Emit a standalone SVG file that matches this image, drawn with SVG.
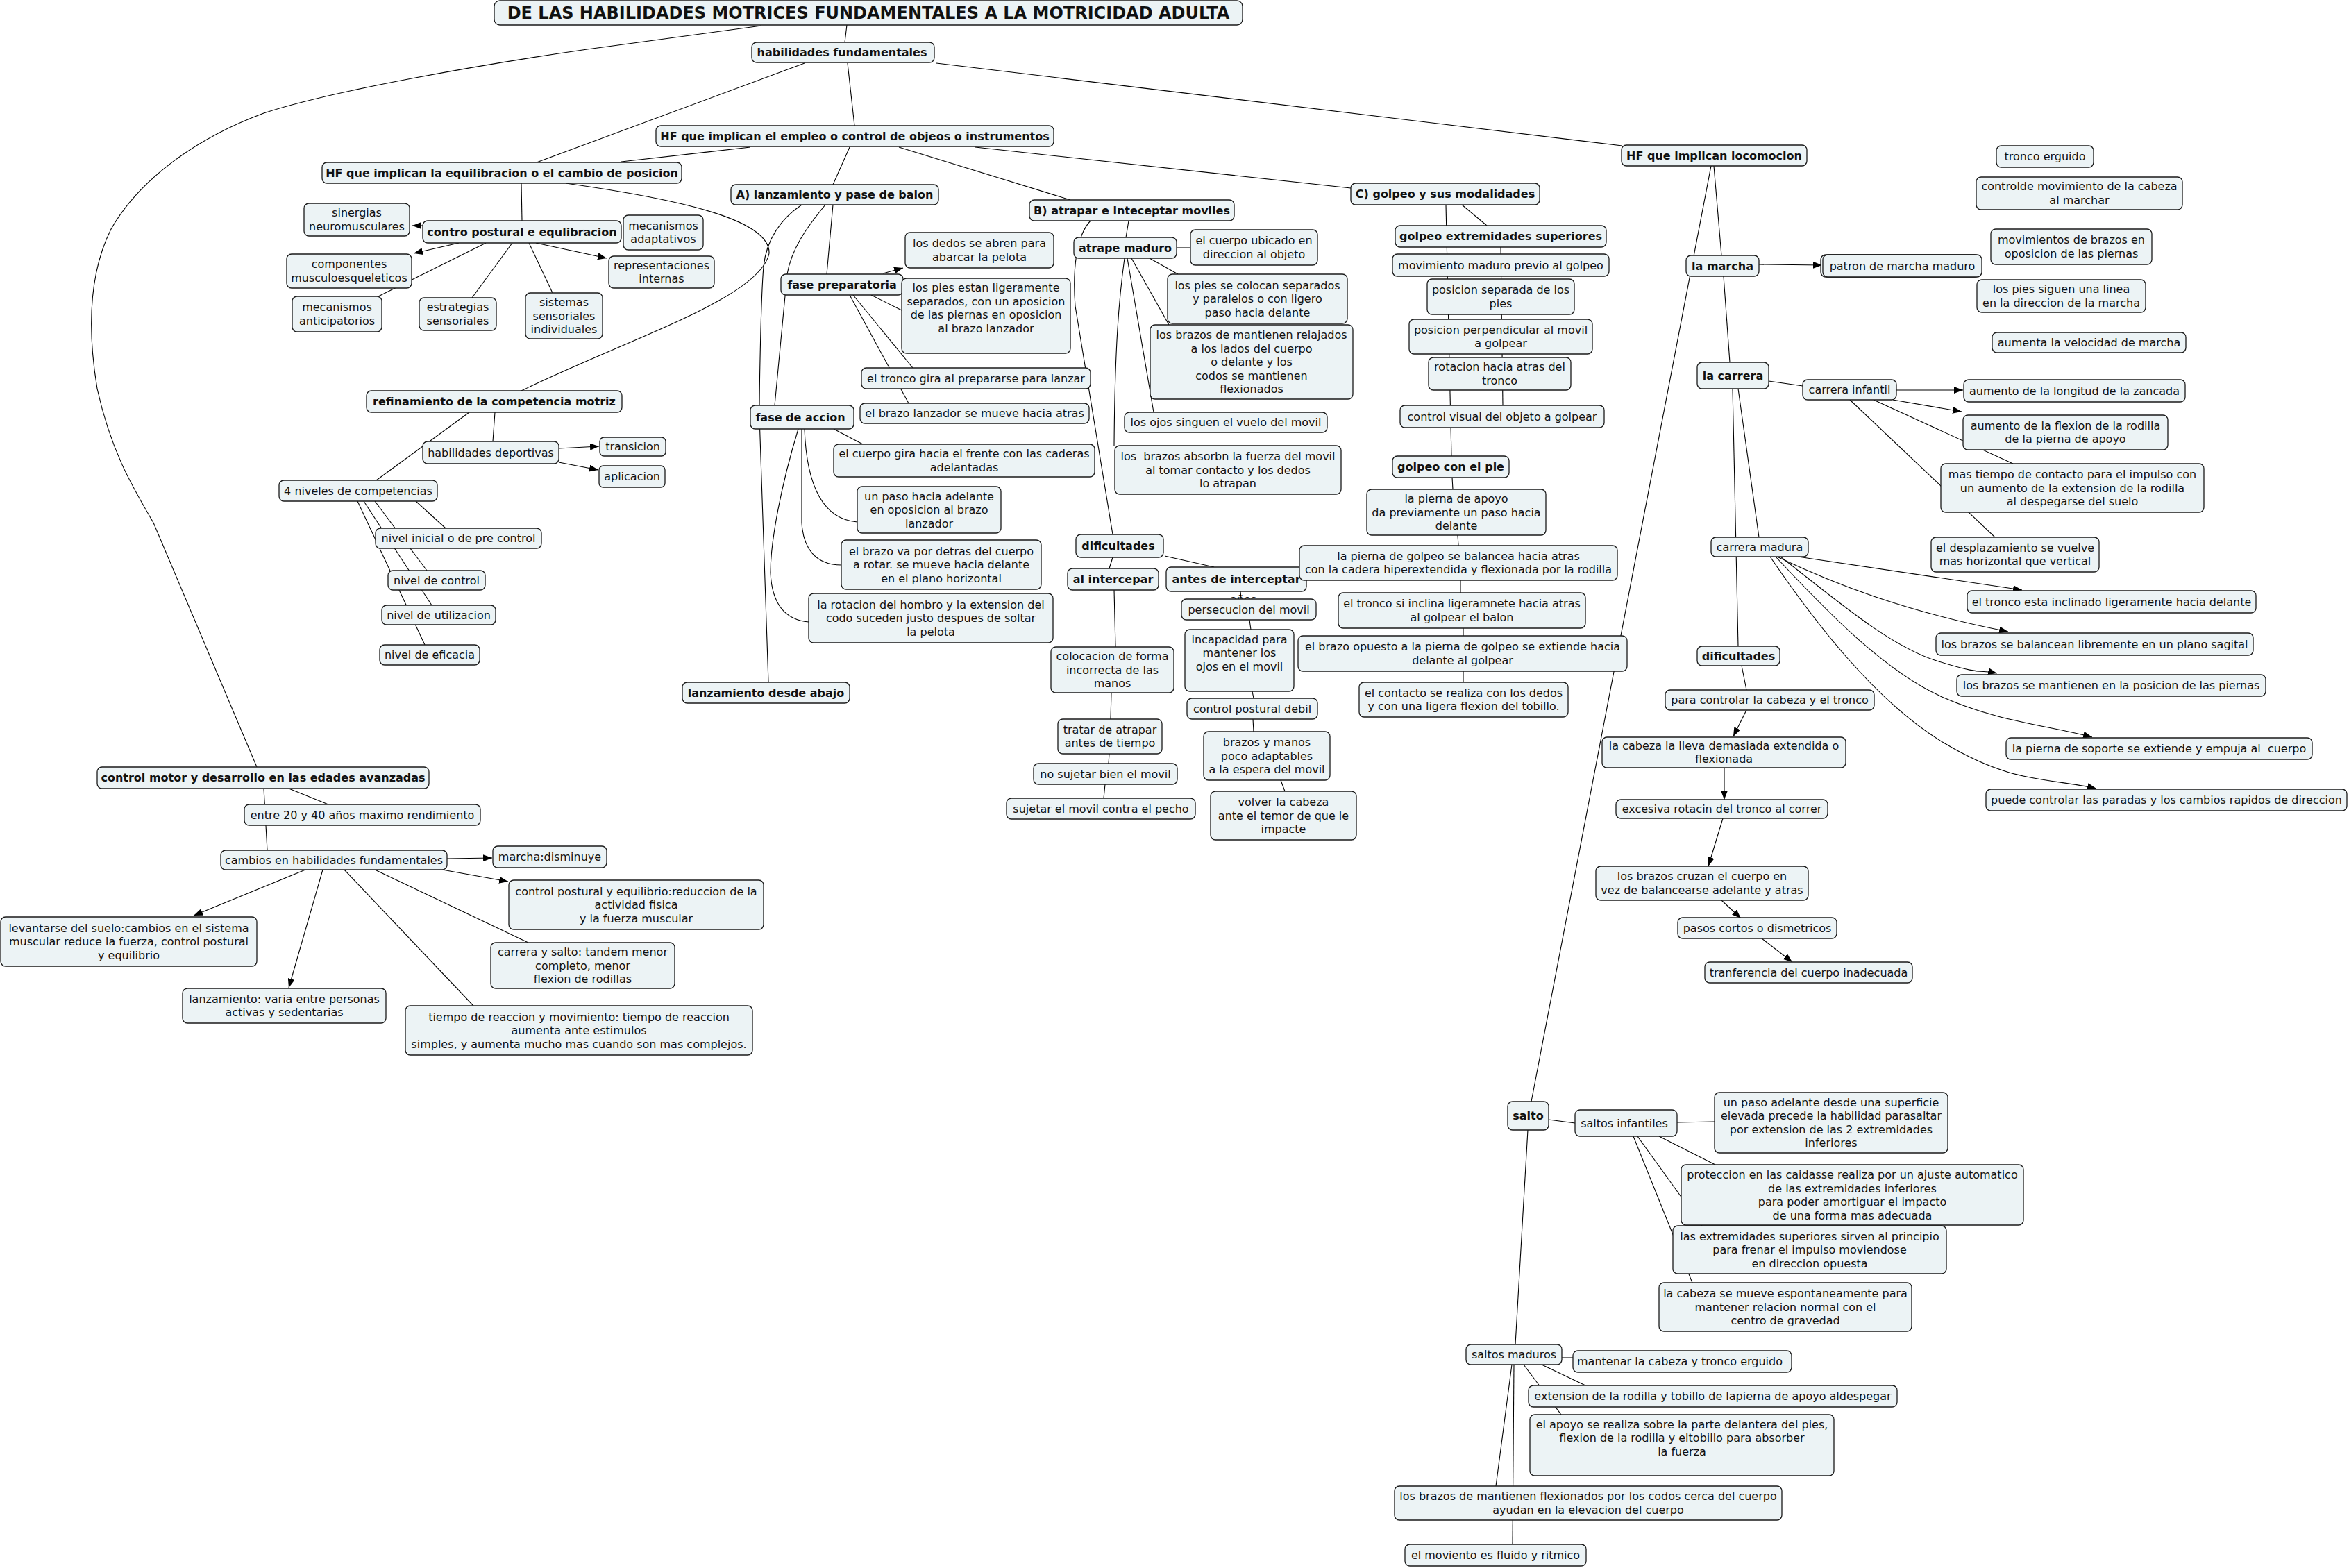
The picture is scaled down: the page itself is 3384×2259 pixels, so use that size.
<svg xmlns="http://www.w3.org/2000/svg" width="3384" height="2259" viewBox="0 0 3384 2259">
<style>
.n rect{fill:#ECF3F5;stroke:#1a1a1a;stroke-width:1.3}
text{font-family:"DejaVu Sans",Verdana,sans-serif;font-size:16px;fill:#111;text-anchor:middle}
.b{font-weight:bold}
#connectors path,#connectors line{stroke:#000;stroke-width:1.1;fill:none}
.a{marker-end:url(#ah)}
</style>
<defs>
<marker id="ah" viewBox="0 0 13 10" refX="13" refY="5" markerWidth="13" markerHeight="10" markerUnits="userSpaceOnUse" orient="auto"><path d="M0,0 L13,5 L0,10 z" fill="#000"/></marker>
</defs>
<rect width="3384" height="2259" fill="#fff"/>
<g id="connectors">
<line x1="1220" y1="36" x2="1217" y2="61"/>
<path d="M1097,37 L846,71 C700,92 480,130 380,163 C280,200 200,260 160,330 C130,390 125,470 140,560 C160,650 190,700 221,753 L370,1105"/>
<line x1="1159" y1="91" x2="773" y2="234"/>
<line x1="1221" y1="91" x2="1231" y2="181"/>
<line x1="1349" y1="91" x2="2337" y2="210"/>
<line x1="1081" y1="212" x2="895" y2="233"/>
<line x1="1224" y1="212" x2="1200" y2="266"/>
<line x1="1295" y1="212" x2="1542" y2="288"/>
<line x1="1405" y1="212" x2="1946" y2="271"/>
<line x1="751" y1="264" x2="752" y2="318"/>
<line class="a" x1="609" y1="325" x2="594" y2="325"/>
<line class="a" x1="661" y1="350" x2="596" y2="365"/>
<line x1="700" y1="350" x2="545" y2="427"/>
<line x1="738" y1="350" x2="680" y2="429"/>
<line x1="762" y1="350" x2="796" y2="422"/>
<line class="a" x1="772" y1="350" x2="874" y2="372"/>
<path d="M815,264 C1000,290 1110,320 1108,365 C1095,430 900,490 751,563"/>
<line x1="713" y1="594" x2="710" y2="636"/>
<line x1="676" y1="594" x2="542" y2="692"/>
<line class="a" x1="805" y1="646" x2="863" y2="643"/>
<line class="a" x1="805" y1="666" x2="862" y2="677"/>
<line x1="599" y1="722" x2="642" y2="761"/>
<line x1="540" y1="722" x2="615" y2="822"/>
<line x1="524" y1="722" x2="622" y2="872"/>
<line x1="515" y1="722" x2="612" y2="929"/>
<line x1="1200" y1="295" x2="1191" y2="395"/>
<path d="M1189,295 C1160,330 1140,360 1134,395 L1116,584"/>
<path d="M1155,295 C1125,315 1104,345 1100,384 C1096,430 1094,560 1094,600 L1107,983"/>
<line class="a" x1="1272" y1="394" x2="1301" y2="386"/>
<line x1="1255" y1="425" x2="1299" y2="447"/>
<line x1="1229" y1="425" x2="1315" y2="530"/>
<line x1="1224" y1="425" x2="1309" y2="581"/>
<line x1="1201" y1="618" x2="1243" y2="640"/>
<path d="M1159,618 C1162,700 1185,748 1235,752"/>
<path d="M1155,618 L1155,753 C1157,790 1175,814 1212,814"/>
<path d="M1150,618 C1125,700 1110,780 1110,825 C1112,870 1130,893 1165,896"/>
<path d="M1571,318 C1550,340 1545,390 1549,441 L1603,770"/>
<line x1="1626" y1="318" x2="1622" y2="342"/>
<line x1="1695" y1="357" x2="1715" y2="357"/>
<line x1="1656" y1="372" x2="1697" y2="395"/>
<line x1="1630" y1="372" x2="1684" y2="468"/>
<line x1="1624" y1="372" x2="1662" y2="594"/>
<path d="M1620,372 C1612,430 1606,500 1605,642"/>
<line x1="1603" y1="803" x2="1598" y2="819"/>
<line x1="1678" y1="801" x2="1749" y2="817"/>
<line x1="1787" y1="852" x2="1788" y2="863"/>
<line x1="1800" y1="893" x2="1802" y2="907"/>
<line x1="1804" y1="996" x2="1806" y2="1006"/>
<line x1="1805" y1="1036" x2="1806" y2="1054"/>
<line x1="1845" y1="1124" x2="1851" y2="1140"/>
<line x1="1605" y1="850" x2="1607" y2="932"/>
<line x1="1601" y1="998" x2="1600" y2="1036"/>
<line x1="1598" y1="1086" x2="1597" y2="1100"/>
<line x1="1592" y1="1130" x2="1590" y2="1150"/>
<line x1="2106" y1="295" x2="2142" y2="325"/>
<line x1="2083" y1="295" x2="2091" y2="657"/>
<line x1="2162" y1="356" x2="2165" y2="584"/>
<line x1="2092" y1="688" x2="2093" y2="705"/>
<line x1="2100" y1="771" x2="2101" y2="786"/>
<line x1="2104" y1="836" x2="2104" y2="854"/>
<line x1="2108" y1="905" x2="2108" y2="916"/>
<line x1="2108" y1="967" x2="2108" y2="983"/>
<line x1="2469" y1="239" x2="2480" y2="368"/>
<line x1="2465" y1="239" x2="2206" y2="1587"/>
<line class="a" x1="2534" y1="381" x2="2625" y2="382"/>
<line x1="2483" y1="398" x2="2492" y2="522"/>
<line x1="2548" y1="549" x2="2597" y2="556"/>
<line class="a" x1="2732" y1="562" x2="2828" y2="562"/>
<line class="a" x1="2727" y1="576" x2="2826" y2="593"/>
<line x1="2699" y1="576" x2="2900" y2="668"/>
<line x1="2665" y1="576" x2="2874" y2="774"/>
<line x1="2504" y1="560" x2="2534" y2="774"/>
<line x1="2496" y1="560" x2="2504" y2="931"/>
<line class="a" x1="2590" y1="802" x2="2913" y2="850"/>
<path class="a" d="M2560,802 C2640,840 2740,880 2893,910"/>
<path class="a" d="M2565,802 C2640,860 2720,930 2790,952 S2850,964 2877,970"/>
<path class="a" d="M2558,802 C2640,890 2720,970 2800,1005 S2950,1045 3014,1062"/>
<path class="a" d="M2550,802 C2610,890 2700,1010 2800,1070 S2950,1120 3020,1136"/>
<line x1="2509" y1="959" x2="2516" y2="994"/>
<line class="a" x1="2516" y1="1023" x2="2497" y2="1061"/>
<line class="a" x1="2484" y1="1106" x2="2484" y2="1152"/>
<line class="a" x1="2482" y1="1179" x2="2461" y2="1248"/>
<line class="a" x1="2480" y1="1297" x2="2508" y2="1323"/>
<line class="a" x1="2538" y1="1352" x2="2582" y2="1386"/>
<line x1="2231" y1="1613" x2="2269" y2="1618"/>
<line x1="2416" y1="1617" x2="2470" y2="1616"/>
<line x1="2390" y1="1637" x2="2471" y2="1678"/>
<line x1="2359" y1="1637" x2="2452" y2="1766"/>
<line x1="2353" y1="1637" x2="2438" y2="1848"/>
<line x1="2201" y1="1628" x2="2183" y2="1937"/>
<line x1="2250" y1="1956" x2="2266" y2="1956"/>
<line x1="2221" y1="1966" x2="2284" y2="1996"/>
<line x1="2195" y1="1966" x2="2249" y2="2038"/>
<line x1="2178" y1="1966" x2="2155" y2="2141"/>
<line x1="2181" y1="1966" x2="2179" y2="2225"/>
<line x1="416" y1="1136" x2="473" y2="1159"/>
<line x1="380" y1="1136" x2="385" y2="1225"/>
<line class="a" x1="644" y1="1237" x2="709" y2="1236"/>
<line class="a" x1="637" y1="1253" x2="732" y2="1270"/>
<line x1="540" y1="1253" x2="761" y2="1358"/>
<line class="a" x1="440" y1="1253" x2="279" y2="1319"/>
<line class="a" x1="465" y1="1253" x2="416" y2="1423"/>
<line x1="496" y1="1253" x2="682" y2="1449"/>
</g>
<text x="1791" y="869" style="font-size:16px">años</text>
<g id="title" class="n"><rect x="712" y="1" width="1078" height="35" rx="8"/><text class="b" x="1251" y="27" style="font-size:24px">DE LAS HABILIDADES MOTRICES FUNDAMENTALES A LA MOTRICIDAD ADULTA</text></g>
<g id="hab-fund" class="n"><rect x="1083" y="61" width="263" height="29" rx="7"/><text class="b" x="1213" y="81">habilidades fundamentales</text></g>
<g id="hf-empleo" class="n"><rect x="945" y="181" width="573" height="30" rx="7"/><text class="b" x="1231.5" y="201.5">HF que implican el empleo o control de objeos o instrumentos</text></g>
<g id="hf-equil" class="n"><rect x="464" y="234" width="518" height="30" rx="7"/><text class="b" x="723" y="254.5">HF que implican la equilibracion o el cambio de posicion</text></g>
<g id="hf-loc" class="n"><rect x="2336" y="209" width="267" height="30" rx="7"/><text class="b" x="2469.5" y="229.5">HF que implican locomocion</text></g>
<g id="sinergias" class="n"><rect x="438" y="293" width="152" height="47" rx="7"/><text x="514" y="312.25">sinergias<tspan x="514" dy="19.5">neuromusculares</tspan></text></g>
<g id="contro-postural" class="n"><rect x="609" y="318" width="286" height="32" rx="7"/><text class="b" x="752" y="339.5">contro postural e equlibracion</text></g>
<g id="componentes" class="n"><rect x="413" y="366" width="180" height="49" rx="7"/><text x="503" y="386.25">componentes<tspan x="503" dy="19.5">musculoesqueleticos</tspan></text></g>
<g id="mec-antic" class="n"><rect x="421" y="427" width="129" height="51" rx="7"/><text x="485.5" y="448.25">mecanismos<tspan x="485.5" dy="19.5">anticipatorios</tspan></text></g>
<g id="estrategias" class="n"><rect x="604" y="429" width="111" height="47" rx="7"/><text x="659.5" y="448.25">estrategias<tspan x="659.5" dy="19.5">sensoriales</tspan></text></g>
<g id="sistemas" class="n"><rect x="757" y="422" width="111" height="66" rx="7"/><text x="812.5" y="441">sistemas<tspan x="812.5" dy="19.5">sensoriales</tspan><tspan x="812.5" dy="19.5">individuales</tspan></text></g>
<g id="mec-adapt" class="n"><rect x="898" y="310" width="115" height="50" rx="7"/><text x="955.5" y="330.75">mecanismos<tspan x="955.5" dy="19.5">adaptativos</tspan></text></g>
<g id="representaciones" class="n"><rect x="877" y="369" width="152" height="46" rx="7"/><text x="953" y="387.75">representaciones<tspan x="953" dy="19.5">internas</tspan></text></g>
<g id="refinamiento" class="n"><rect x="528" y="563" width="368" height="31" rx="7"/><text class="b" x="712" y="584">refinamiento de la competencia motriz</text></g>
<g id="hab-deportivas" class="n"><rect x="609" y="636" width="196" height="32" rx="7"/><text x="707" y="657.5">habilidades deportivas</text></g>
<g id="transicion" class="n"><rect x="864" y="630" width="95" height="27" rx="6"/><text x="911.5" y="649">transicion</text></g>
<g id="aplicacion" class="n"><rect x="863" y="671" width="95" height="31" rx="6"/><text x="910.5" y="692">aplicacion</text></g>
<g id="niveles" class="n"><rect x="402" y="692" width="228" height="30" rx="7"/><text x="516" y="712.5">4 niveles de competencias</text></g>
<g id="nivel-inicial" class="n"><rect x="541" y="761" width="239" height="29" rx="7"/><text x="660.5" y="781">nivel inicial o de pre control</text></g>
<g id="nivel-control" class="n"><rect x="559" y="822" width="140" height="28" rx="7"/><text x="629" y="841.5">nivel de control</text></g>
<g id="nivel-utilizacion" class="n"><rect x="550" y="872" width="164" height="28" rx="7"/><text x="632" y="891.5">nivel de utilizacion</text></g>
<g id="nivel-eficacia" class="n"><rect x="547" y="929" width="144" height="29" rx="7"/><text x="619" y="949">nivel de eficacia</text></g>
<g id="a-lanzamiento" class="n"><rect x="1053" y="266" width="299" height="29" rx="7"/><text class="b" x="1202.5" y="286">A) lanzamiento y pase de balon</text></g>
<g id="b-atrapar" class="n"><rect x="1483" y="288" width="295" height="30" rx="7"/><text class="b" x="1630.5" y="308.5">B) atrapar e inteceptar moviles</text></g>
<g id="c-golpeo" class="n"><rect x="1946" y="264" width="272" height="31" rx="7"/><text class="b" x="2082" y="285">C) golpeo y sus modalidades</text></g>
<g id="fase-prep" class="n"><rect x="1125" y="395" width="176" height="30" rx="7"/><text class="b" x="1213" y="415.5">fase preparatoria</text></g>
<g id="dedos" class="n"><rect x="1304" y="335" width="214" height="51" rx="7"/><text x="1411" y="356.25">los dedos se abren para<tspan x="1411" dy="19.5">abarcar la pelota</tspan></text></g>
<g id="pies-estan" class="n"><rect x="1299" y="401" width="243" height="108" rx="7"/><text x="1420.5" y="420">los pies estan ligeramente<tspan x="1420.5" dy="19.5">separados, con un aposicion</tspan><tspan x="1420.5" dy="19.5">de las piernas en oposicion</tspan><tspan x="1420.5" dy="19.5">al brazo lanzador</tspan></text></g>
<g id="tronco-gira" class="n"><rect x="1241" y="530" width="330" height="30" rx="7"/><text x="1406" y="550.5">el tronco gira al prepararse para lanzar</text></g>
<g id="brazo-lanzador" class="n"><rect x="1239" y="581" width="330" height="29" rx="7"/><text x="1404" y="601">el brazo lanzador se mueve hacia atras</text></g>
<g id="fase-accion" class="n"><rect x="1081" y="584" width="149" height="34" rx="7"/><text class="b" x="1153" y="606.5">fase de accion</text></g>
<g id="cuerpo-gira" class="n"><rect x="1201" y="640" width="376" height="47" rx="7"/><text x="1389" y="659.25">el cuerpo gira hacia el frente con las caderas<tspan x="1389" dy="19.5">adelantadas</tspan></text></g>
<g id="un-paso" class="n"><rect x="1235" y="701" width="207" height="67" rx="7"/><text x="1338.5" y="720.5">un paso hacia adelante<tspan x="1338.5" dy="19.5">en oposicion al brazo</tspan><tspan x="1338.5" dy="19.5">lanzador</tspan></text></g>
<g id="brazo-va" class="n"><rect x="1212" y="778" width="288" height="71" rx="7"/><text x="1356" y="799.5">el brazo va por detras del cuerpo<tspan x="1356" dy="19.5">a rotar. se mueve hacia delante</tspan><tspan x="1356" dy="19.5">en el plano horizontal</tspan></text></g>
<g id="rotacion-hombro" class="n"><rect x="1165" y="855" width="352" height="71" rx="7"/><text x="1341" y="876.5">la rotacion del hombro y la extension del<tspan x="1341" dy="19.5">codo suceden justo despues de soltar</tspan><tspan x="1341" dy="19.5">la pelota</tspan></text></g>
<g id="lanz-abajo" class="n"><rect x="983" y="983" width="241" height="30" rx="7"/><text class="b" x="1103.5" y="1003.5">lanzamiento desde abajo</text></g>
<g id="atrape-maduro" class="n"><rect x="1547" y="342" width="148" height="30" rx="7"/><text class="b" x="1621" y="362.5">atrape maduro</text></g>
<g id="cuerpo-ubicado" class="n"><rect x="1715" y="331" width="183" height="51" rx="7"/><text x="1806.5" y="352.25">el cuerpo ubicado en<tspan x="1806.5" dy="19.5">direccion al objeto</tspan></text></g>
<g id="pies-colocan" class="n"><rect x="1682" y="395" width="259" height="71" rx="7"/><text x="1811.5" y="416.5">los pies se colocan separados<tspan x="1811.5" dy="19.5">y paralelos o con ligero</tspan><tspan x="1811.5" dy="19.5">paso hacia delante</tspan></text></g>
<g id="brazos-relajados" class="n"><rect x="1657" y="468" width="292" height="107" rx="7"/><text x="1803" y="488">los brazos de mantienen relajados<tspan x="1803" dy="19.5">a los lados del cuerpo</tspan><tspan x="1803" dy="19.5">o delante y los</tspan><tspan x="1803" dy="19.5">codos se mantienen</tspan><tspan x="1803" dy="19.5">flexionados</tspan></text></g>
<g id="ojos" class="n"><rect x="1620" y="594" width="292" height="29" rx="7"/><text x="1766" y="614">los ojos singuen el vuelo del movil</text></g>
<g id="brazos-absorbn" class="n"><rect x="1606" y="642" width="326" height="70" rx="7"/><text x="1769" y="663">los&#160; brazos absorbn la fuerza del movil<tspan x="1769" dy="19.5">al tomar contacto y los dedos</tspan><tspan x="1769" dy="19.5">lo atrapan</tspan></text></g>
<g id="dificultades-b" class="n"><rect x="1550" y="770" width="126" height="33" rx="7"/><text class="b" x="1611" y="792">dificultades</text></g>
<g id="al-intercepar" class="n"><rect x="1538" y="819" width="131" height="31" rx="7"/><text class="b" x="1603.5" y="840">al intercepar</text></g>
<g id="antes-interceptar" class="n"><rect x="1680" y="817" width="202" height="35" rx="7"/><text class="b" x="1781" y="840">antes de interceptar</text></g>
<g id="persecucion" class="n"><rect x="1702" y="863" width="194" height="30" rx="7"/><text x="1799" y="883.5">persecucion del movil</text></g>
<g id="incapacidad" class="n"><rect x="1707" y="907" width="157" height="89" rx="7"/><text x="1785.5" y="926.5">incapacidad para<tspan x="1785.5" dy="19.5">mantener los</tspan><tspan x="1785.5" dy="19.5">ojos en el movil</tspan></text></g>
<g id="postural-debil" class="n"><rect x="1710" y="1006" width="188" height="30" rx="7"/><text x="1804" y="1026.5">control postural debil</text></g>
<g id="brazos-manos" class="n"><rect x="1734" y="1054" width="182" height="70" rx="7"/><text x="1825" y="1075">brazos y manos<tspan x="1825" dy="19.5">poco adaptables</tspan><tspan x="1825" dy="19.5">a la espera del movil</tspan></text></g>
<g id="volver-cabeza" class="n"><rect x="1744" y="1140" width="210" height="70" rx="7"/><text x="1849" y="1161">volver la cabeza<tspan x="1849" dy="19.5">ante el temor de que le</tspan><tspan x="1849" dy="19.5">impacte</tspan></text></g>
<g id="colocacion" class="n"><rect x="1514" y="932" width="177" height="66" rx="7"/><text x="1602.5" y="951">colocacion de forma<tspan x="1602.5" dy="19.5">incorrecta de las</tspan><tspan x="1602.5" dy="19.5">manos</tspan></text></g>
<g id="tratar" class="n"><rect x="1524" y="1036" width="150" height="50" rx="7"/><text x="1599" y="1056.75">tratar de atrapar<tspan x="1599" dy="19.5">antes de tiempo</tspan></text></g>
<g id="no-sujetar" class="n"><rect x="1489" y="1100" width="207" height="30" rx="7"/><text x="1592.5" y="1120.5">no sujetar bien el movil</text></g>
<g id="sujetar" class="n"><rect x="1450" y="1150" width="272" height="30" rx="7"/><text x="1586" y="1170.5">sujetar el movil contra el pecho</text></g>
<g id="golpeo-ext" class="n"><rect x="2010" y="325" width="304" height="31" rx="7"/><text class="b" x="2162" y="346">golpeo extremidades superiores</text></g>
<g id="mov-maduro" class="n"><rect x="2006" y="366" width="312" height="32" rx="7"/><text x="2162" y="387.5">movimiento maduro previo al golpeo</text></g>
<g id="pos-separada" class="n"><rect x="2056" y="402" width="212" height="51" rx="7"/><text x="2162" y="423.25">posicion separada de los<tspan x="2162" dy="19.5">pies</tspan></text></g>
<g id="pos-perpendicular" class="n"><rect x="2030" y="460" width="264" height="50" rx="7"/><text x="2162" y="480.75">posicion perpendicular al movil<tspan x="2162" dy="19.5">a golpear</tspan></text></g>
<g id="rot-atras" class="n"><rect x="2058" y="515" width="205" height="47" rx="7"/><text x="2160.5" y="534.25">rotacion hacia atras del<tspan x="2160.5" dy="19.5">tronco</tspan></text></g>
<g id="control-visual" class="n"><rect x="2017" y="584" width="294" height="32" rx="7"/><text x="2164" y="605.5">control visual del objeto a golpear</text></g>
<g id="golpeo-pie" class="n"><rect x="2006" y="657" width="168" height="31" rx="7"/><text class="b" x="2090" y="678">golpeo con el pie</text></g>
<g id="pierna-apoyo" class="n"><rect x="1969" y="705" width="258" height="66" rx="7"/><text x="2098" y="724">la pierna de apoyo<tspan x="2098" dy="19.5">da previamente un paso hacia</tspan><tspan x="2098" dy="19.5">delante</tspan></text></g>
<g id="pierna-golpeo" class="n"><rect x="1872" y="786" width="458" height="50" rx="7"/><text x="2101" y="806.75">la pierna de golpeo se balancea hacia atras<tspan x="2101" dy="19.5">con la cadera hiperextendida y flexionada por la rodilla</tspan></text></g>
<g id="tronco-inclina" class="n"><rect x="1928" y="854" width="356" height="51" rx="7"/><text x="2106" y="875.25">el tronco si inclina ligeramnete hacia atras<tspan x="2106" dy="19.5">al golpear el balon</tspan></text></g>
<g id="brazo-opuesto" class="n"><rect x="1870" y="916" width="474" height="51" rx="7"/><text x="2107" y="937.25">el brazo opuesto a la pierna de golpeo se extiende hacia<tspan x="2107" dy="19.5">delante al golpear</tspan></text></g>
<g id="contacto" class="n"><rect x="1958" y="983" width="301" height="50" rx="7"/><text x="2108.5" y="1003.75">el contacto se realiza con los dedos<tspan x="2108.5" dy="19.5">y con una ligera flexion del tobillo.</tspan></text></g>
<g id="la-marcha" class="n"><rect x="2429" y="368" width="105" height="30" rx="7"/><text class="b" x="2481.5" y="388.5">la marcha</text></g>
<g id="patron" class="n"><rect x="2623" y="367" width="229" height="32" rx="7"/><rect x="2626" y="367" width="229" height="32" rx="7"/><text x="2740.5" y="388.5">patron de marcha maduro</text></g>
<g id="la-carrera" class="n"><rect x="2445" y="522" width="103" height="38" rx="7"/><text class="b" x="2496.5" y="546.5">la carrera</text></g>
<g id="carrera-infantil" class="n"><rect x="2597" y="547" width="135" height="29" rx="7"/><text x="2664.5" y="567">carrera infantil</text></g>
<g id="aumento-longitud" class="n"><rect x="2829" y="547" width="319" height="32" rx="7"/><text x="2988.5" y="568.5">aumento de la longitud de la zancada</text></g>
<g id="aumento-flexion" class="n"><rect x="2828" y="598" width="295" height="50" rx="7"/><text x="2975.5" y="618.75">aumento de la flexion de la rodilla<tspan x="2975.5" dy="19.5">de la pierna de apoyo</tspan></text></g>
<g id="mas-tiempo" class="n"><rect x="2796" y="668" width="379" height="70" rx="7"/><text x="2985.5" y="689">mas tiempo de contacto para el impulso con<tspan x="2985.5" dy="19.5">un aumento de la extension de la rodilla</tspan><tspan x="2985.5" dy="19.5">al despegarse del suelo</tspan></text></g>
<g id="desplazamiento" class="n"><rect x="2782" y="774" width="242" height="50" rx="7"/><text x="2903" y="794.75">el desplazamiento se vuelve<tspan x="2903" dy="19.5">mas horizontal que vertical</tspan></text></g>
<g id="carrera-madura" class="n"><rect x="2465" y="774" width="140" height="28" rx="7"/><text x="2535" y="793.5">carrera madura</text></g>
<g id="tronco-inclinado" class="n"><rect x="2834" y="851" width="416" height="32" rx="7"/><text x="3042" y="872.5">el tronco esta inclinado ligeramente hacia delante</text></g>
<g id="brazos-balancean" class="n"><rect x="2789" y="912" width="457" height="32" rx="7"/><text x="3017.5" y="933.5">los brazos se balancean libremente en un plano sagital</text></g>
<g id="brazos-mantienen" class="n"><rect x="2819" y="972" width="445" height="31" rx="7"/><text x="3041.5" y="993">los brazos se mantienen en la posicion de las piernas</text></g>
<g id="pierna-soporte" class="n"><rect x="2890" y="1063" width="441" height="31" rx="7"/><text x="3110.5" y="1084">la pierna de soporte se extiende y empuja al&#160; cuerpo</text></g>
<g id="puede-controlar" class="n"><rect x="2861" y="1137" width="520" height="31" rx="7"/><text x="3121" y="1158">puede controlar las paradas y los cambios rapidos de direccion</text></g>
<g id="dificultades-c" class="n"><rect x="2445" y="931" width="119" height="28" rx="7"/><text class="b" x="2504.5" y="950.5">dificultades</text></g>
<g id="para-controlar" class="n"><rect x="2399" y="994" width="301" height="29" rx="7"/><text x="2549.5" y="1014">para controlar la cabeza y el tronco</text></g>
<g id="cabeza-lleva" class="n"><rect x="2308" y="1062" width="351" height="44" rx="7"/><text x="2483.5" y="1080">la cabeza la lleva demasiada extendida o<tspan x="2483.5" dy="19">flexionada</tspan></text></g>
<g id="excesiva" class="n"><rect x="2328" y="1152" width="305" height="27" rx="7"/><text x="2480.5" y="1171">excesiva rotacin del tronco al correr</text></g>
<g id="brazos-cruzan" class="n"><rect x="2299" y="1248" width="306" height="49" rx="7"/><text x="2452" y="1268.25">los brazos cruzan el cuerpo en<tspan x="2452" dy="19.5">vez de balancearse adelante y atras</tspan></text></g>
<g id="pasos-cortos" class="n"><rect x="2417" y="1322" width="229" height="30" rx="7"/><text x="2531.5" y="1342.5">pasos cortos o dismetricos</text></g>
<g id="tranferencia" class="n"><rect x="2456" y="1386" width="299" height="30" rx="7"/><text x="2605.5" y="1406.5">tranferencia del cuerpo inadecuada</text></g>
<g id="tronco-erguido" class="n"><rect x="2876" y="210" width="140" height="31" rx="7"/><text x="2946" y="231">tronco erguido</text></g>
<g id="controlde" class="n"><rect x="2847" y="255" width="297" height="47" rx="7"/><text x="2995.5" y="274.25">controlde movimiento de la cabeza<tspan x="2995.5" dy="19.5">al marchar</tspan></text></g>
<g id="mov-brazos" class="n"><rect x="2868" y="330" width="232" height="51" rx="7"/><text x="2984" y="351.25">movimientos de brazos en<tspan x="2984" dy="19.5">oposicion de las piernas</tspan></text></g>
<g id="pies-siguen" class="n"><rect x="2848" y="403" width="243" height="47" rx="7"/><text x="2969.5" y="422.25">los pies siguen una linea<tspan x="2969.5" dy="19.5">en la direccion de la marcha</tspan></text></g>
<g id="aumenta-vel" class="n"><rect x="2870" y="479" width="279" height="29" rx="7"/><text x="3009.5" y="499">aumenta la velocidad de marcha</text></g>
<g id="salto" class="n"><rect x="2172" y="1587" width="59" height="41" rx="7"/><text class="b" x="2201.5" y="1613">salto</text></g>
<g id="saltos-infantiles" class="n"><rect x="2269" y="1599" width="147" height="38" rx="7"/><text x="2340" y="1623.5">saltos infantiles</text></g>
<g id="un-paso-sup" class="n"><rect x="2470" y="1574" width="336" height="87" rx="7"/><text x="2638" y="1593.75">un paso adelante desde una superficie<tspan x="2638" dy="19.5">elevada precede la habilidad parasaltar</tspan><tspan x="2638" dy="19.5">por extension de las 2 extremidades</tspan><tspan x="2638" dy="19.5">inferiores</tspan></text></g>
<g id="proteccion" class="n"><rect x="2422" y="1678" width="493" height="87" rx="7"/><text x="2668.5" y="1698">proteccion en las caidasse realiza por un ajuste automatico<tspan x="2668.5" dy="19.5">de las extremidades inferiores</tspan><tspan x="2668.5" dy="19.5">para poder amortiguar el impacto</tspan><tspan x="2668.5" dy="19.5">de una forma mas adecuada</tspan></text></g>
<g id="extremidades-sup" class="n"><rect x="2410" y="1766" width="394" height="69" rx="7"/><text x="2607" y="1786.5">las extremidades superiores sirven al principio<tspan x="2607" dy="19.5">para frenar el impulso moviendose</tspan><tspan x="2607" dy="19.5">en direccion opuesta</tspan></text></g>
<g id="cabeza-mueve" class="n"><rect x="2390" y="1848" width="364" height="70" rx="7"/><text x="2572" y="1869">la cabeza se mueve espontaneamente para<tspan x="2572" dy="19.5">mantener relacion normal con el</tspan><tspan x="2572" dy="19.5">centro de gravedad</tspan></text></g>
<g id="saltos-maduros" class="n"><rect x="2112" y="1937" width="138" height="29" rx="7"/><text x="2181" y="1957">saltos maduros</text></g>
<g id="mantenar" class="n"><rect x="2266" y="1946" width="315" height="31" rx="7"/><text x="2420" y="1967">mantenar la cabeza y tronco erguido</text></g>
<g id="extension" class="n"><rect x="2202" y="1996" width="531" height="31" rx="7"/><text x="2467.5" y="2017">extension de la rodilla y tobillo de lapierna de apoyo aldespegar</text></g>
<g id="el-apoyo" class="n"><rect x="2204" y="2038" width="438" height="88" rx="7"/><text x="2423" y="2057.5">el apoyo se realiza sobre la parte delantera del pies,<tspan x="2423" dy="19.5">flexion de la rodilla y eltobillo para absorber</tspan><tspan x="2423" dy="19.5">la fuerza</tspan></text></g>
<g id="brazos-flex" class="n"><rect x="2009" y="2141" width="558" height="49" rx="7"/><text x="2288" y="2161.25">los brazos de mantienen flexionados por los codos cerca del cuerpo<tspan x="2288" dy="19.5">ayudan en la elevacion del cuerpo</tspan></text></g>
<g id="moviento-fluido" class="n"><rect x="2024" y="2225" width="261" height="31" rx="7"/><text x="2154.5" y="2246">el moviento es fluido y ritmico</text></g>
<g id="control-motor" class="n"><rect x="140" y="1105" width="478" height="31" rx="7"/><text class="b" x="379" y="1126">control motor y desarrollo en las edades avanzadas</text></g>
<g id="entre" class="n"><rect x="352" y="1159" width="340" height="30" rx="7"/><text x="522" y="1179.5">entre 20 y 40 años maximo rendimiento</text></g>
<g id="cambios" class="n"><rect x="318" y="1225" width="326" height="28" rx="7"/><text x="481" y="1244.5">cambios en habilidades fundamentales</text></g>
<g id="marcha-dism" class="n"><rect x="710" y="1219" width="164" height="31" rx="7"/><text x="792" y="1240">marcha:disminuye</text></g>
<g id="control-post-eq" class="n"><rect x="733" y="1268" width="367" height="71" rx="7"/><text x="916.5" y="1289.5">control postural y equilibrio:reduccion de la<tspan x="916.5" dy="19.5">actividad fisica</tspan><tspan x="916.5" dy="19.5">y la fuerza muscular</tspan></text></g>
<g id="carrera-salto" class="n"><rect x="707" y="1358" width="265" height="66" rx="7"/><text x="839.5" y="1377">carrera y salto: tandem menor<tspan x="839.5" dy="19.5">completo, menor</tspan><tspan x="839.5" dy="19.5">flexion de rodillas</tspan></text></g>
<g id="levantarse" class="n"><rect x="1" y="1321" width="369" height="71" rx="7"/><text x="185.5" y="1342.5">levantarse del suelo:cambios en el sistema<tspan x="185.5" dy="19.5">muscular reduce la fuerza, control postural</tspan><tspan x="185.5" dy="19.5">y equilibrio</tspan></text></g>
<g id="lanz-varia" class="n"><rect x="263" y="1424" width="293" height="50" rx="7"/><text x="409.5" y="1444.75">lanzamiento: varia entre personas<tspan x="409.5" dy="19.5">activas y sedentarias</tspan></text></g>
<g id="tiempo-reaccion" class="n"><rect x="584" y="1449" width="500" height="71" rx="7"/><text x="834" y="1470.5">tiempo de reaccion y movimiento: tiempo de reaccion<tspan x="834" dy="19.5">aumenta ante estimulos</tspan><tspan x="834" dy="19.5">simples, y aumenta mucho mas cuando son mas complejos.</tspan></text></g>
</svg>
